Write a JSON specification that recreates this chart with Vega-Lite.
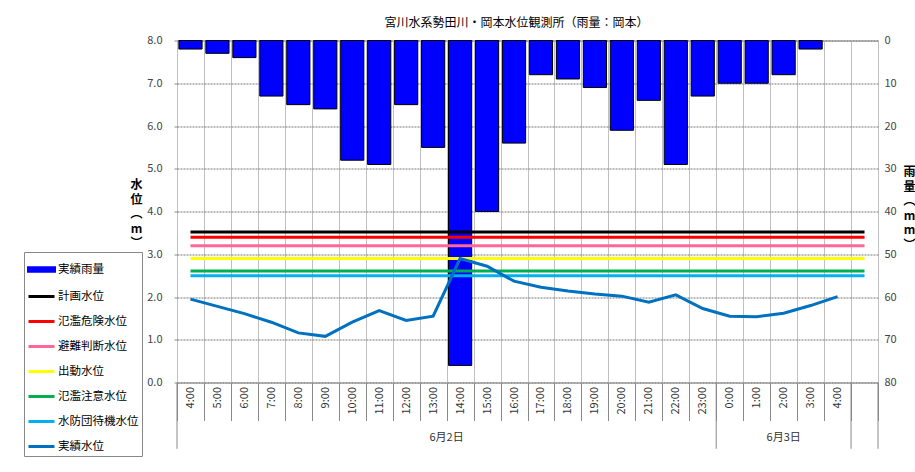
{
  "$schema": "https://vega.github.io/schema/vega-lite/v6.json",
  "width": 701,
  "height": 342,
  "padding": {"left": 23, "top": 16.5, "right": 0, "bottom": 0},
  "autosize": {"type": "pad"},
  "background": "white",
  "title": {"text": "宮川水系勢田川・岡本水位観測所（雨量：岡本）", "fontSize": 12, "fontWeight": "normal", "color": "#000000", "anchor": "middle", "offset": 12, "dx": -11, "dy": 7},
  "datasets": {
    "hours": [
      {"k": "2日4:00", "rain": 2, "level": 1.95},
      {"k": "2日5:00", "rain": 3, "level": 1.78},
      {"k": "2日6:00", "rain": 4, "level": 1.61},
      {"k": "2日7:00", "rain": 13, "level": 1.41},
      {"k": "2日8:00", "rain": 15, "level": 1.16},
      {"k": "2日9:00", "rain": 16, "level": 1.08},
      {"k": "2日10:00", "rain": 28, "level": 1.41},
      {"k": "2日11:00", "rain": 29, "level": 1.68},
      {"k": "2日12:00", "rain": 15, "level": 1.45},
      {"k": "2日13:00", "rain": 25, "level": 1.55},
      {"k": "2日14:00", "rain": 76, "level": 2.90},
      {"k": "2日15:00", "rain": 40, "level": 2.72},
      {"k": "2日16:00", "rain": 24, "level": 2.37},
      {"k": "2日17:00", "rain": 8, "level": 2.23},
      {"k": "2日18:00", "rain": 9, "level": 2.14},
      {"k": "2日19:00", "rain": 11, "level": 2.07},
      {"k": "2日20:00", "rain": 21, "level": 2.02},
      {"k": "2日21:00", "rain": 14, "level": 1.88},
      {"k": "2日22:00", "rain": 29, "level": 2.05},
      {"k": "2日23:00", "rain": 13, "level": 1.73},
      {"k": "3日0:00", "rain": 10, "level": 1.55},
      {"k": "3日1:00", "rain": 10, "level": 1.54},
      {"k": "3日2:00", "rain": 8, "level": 1.62},
      {"k": "3日3:00", "rain": 2, "level": 1.80},
      {"k": "3日4:00", "rain": 0, "level": 2.01},
      {"k": "end", "rain": null, "level": null}
    ],
    "thr": [
      {"series": "計画水位", "value": 3.52},
      {"series": "氾濫危険水位", "value": 3.40},
      {"series": "避難判断水位", "value": 3.20},
      {"series": "出動水位", "value": 2.90},
      {"series": "氾濫注意水位", "value": 2.61},
      {"series": "水防団待機水位", "value": 2.50}
    ],
    "seps": [
      {"k": "2日4:00"},
      {"k": "3日0:00"},
      {"k": "end"}
    ],
    "dates": [
      {"label": "6月2日", "k": "2日14:00"},
      {"label": "6月3日", "k": "3日2:00"}
    ]
  },
  "layer": [
    {
      "data": {"name": "hours"},
      "transform": [{"filter": "datum.rain > 0"}],
      "mark": {"type": "bar", "stroke": "#000000", "strokeWidth": 1, "width": {"band": 0.86}},
      "encoding": {
        "x": {
          "field": "k", "type": "nominal", "sort": null,
          "scale": {"domain": ["2日4:00","2日5:00","2日6:00","2日7:00","2日8:00","2日9:00","2日10:00","2日11:00","2日12:00","2日13:00","2日14:00","2日15:00","2日16:00","2日17:00","2日18:00","2日19:00","2日20:00","2日21:00","2日22:00","2日23:00","3日0:00","3日1:00","3日2:00","3日3:00","3日4:00","end"], "paddingInner": 0, "paddingOuter": 0},
          "axis": {"title": null, "domain": false, "tickBand": "extent", "tickSize": 38, "tickColor": "#888888", "labelAngle": 270, "labelAlign": "right", "labelBaseline": "middle", "labelPadding": -34, "labelFontSize": 11, "labelColor": "#333333", "labelOverlap": false, "labelBound": false, "labelExpr": "datum.value == 'end' ? '' : split(datum.value, '日')[1]", "grid": true, "gridColor": "#c0c0c0"}
        },
        "y": {
          "field": "rain", "type": "quantitative",
          "scale": {"domain": [0, 80], "reverse": true, "nice": false, "zero": true},
          "axis": {"orient": "right", "values": [0,10,20,30,40,50,60,70,80], "domain": false, "ticks": false, "labelPadding": 6, "labelFontSize": 11, "labelColor": "#444444", "grid": false, "title": ["雨","量","︵","m","m","︶"], "titleAngle": 0, "titleX": 31, "titleY": 131, "titleAlign": "center", "titleBaseline": "middle", "titleLineHeight": 14.5, "titleFontSize": 12, "titleFontWeight": "bold", "titleColor": "#000000"}
        },
        "color": {
          "datum": "実績雨量", "type": "nominal", "title": null,
          "scale": {"domain": ["実績雨量","計画水位","氾濫危険水位","避難判断水位","出動水位","氾濫注意水位","水防団待機水位","実績水位"], "range": ["#0000FF","#000000","#FF0000","#FF6699","#FFFF00","#00B050","#00B0F0","#0070C0"]},
          "legend": {
            "title": null, "orient": "none", "legendX": -153, "legendY": 211.5,
            "symbolType": {"expr": "datum.value === '実績雨量' ? 'M-1,-0.13H1V0.13H-1Z' : 'stroke'"},
            "symbolSize": 676, "symbolStrokeWidth": 3,
            "labelFontSize": 11.5, "labelColor": "#000000", "labelOffset": 2, "labelLimit": 200,
            "rowPadding": 4, "padding": 3, "strokeColor": "#888888", "fillColor": "#ffffff"
          }
        }
      }
    },
    {
      "layer": [
        {
          "data": {"name": "thr"},
          "mark": {"type": "rule", "strokeWidth": 3},
          "encoding": {
            "x": {"datum": "2日4:00"},
            "x2": {"datum": "end"},
            "y": {
              "field": "value", "type": "quantitative",
              "scale": {"domain": [0, 8], "nice": false},
              "axis": {"orient": "left", "values": [0,1,2,3,4,5,6,7,8], "format": ".1f", "domain": false, "tickSize": 3, "tickColor": "#888888", "labelPadding": 12, "labelFontSize": 11, "labelColor": "#444444", "grid": true, "gridColor": "#777777", "gridDash": [2, 1], "title": ["水","位","︵","m","︶"], "titleAngle": 0, "titleX": -41, "titleY": 144, "titleAlign": "center", "titleBaseline": "middle", "titleLineHeight": 14.5, "titleFontSize": 12, "titleFontWeight": "bold", "titleColor": "#000000"}
            },
            "color": {"field": "series", "type": "nominal", "title": null}
          }
        },
        {
          "data": {"name": "hours"},
          "transform": [{"filter": "datum.level != null"}],
          "mark": {"type": "line", "strokeWidth": 3},
          "encoding": {
            "x": {"field": "k", "type": "nominal"},
            "y": {"field": "level", "type": "quantitative"},
            "color": {"datum": "実績水位", "title": null},
            "order": {"value": null}
          }
        },
        {
          "data": {"name": "seps"},
          "mark": {"type": "rule", "color": "#888888", "strokeWidth": 1},
          "encoding": {
            "x": {"field": "k", "type": "nominal", "bandPosition": 0},
            "y": {"datum": 0},
            "y2": {"datum": -1.55}
          }
        },
        {
          "data": {"name": "seps"},
          "transform": [{"filter": "datum.k == 'end'"}],
          "mark": {"type": "rule", "color": "#888888", "strokeWidth": 1},
          "encoding": {
            "x": {"field": "k", "type": "nominal", "bandPosition": 1},
            "y": {"datum": 0},
            "y2": {"datum": -1.55}
          }
        },
        {
          "data": {"name": "dates"},
          "transform": [{"filter": "datum.label == '6月2日'"}],
          "mark": {"type": "text", "fontSize": 11, "color": "#333333", "baseline": "middle"},
          "encoding": {
            "x": {"field": "k", "type": "nominal", "bandPosition": 0},
            "y": {"datum": -1.29},
            "text": {"field": "label"}
          }
        },
        {
          "data": {"name": "dates"},
          "transform": [{"filter": "datum.label == '6月3日'"}],
          "mark": {"type": "text", "fontSize": 11, "color": "#333333", "baseline": "middle"},
          "encoding": {
            "x": {"field": "k", "type": "nominal", "bandPosition": 0.5},
            "y": {"datum": -1.29},
            "text": {"field": "label"}
          }
        }
      ]
    }
  ],
  "resolve": {"scale": {"y": "independent"}},
  "config": {
    "font": "Noto Sans CJK JP",
    "view": {"stroke": "#888888"}
  }
}
